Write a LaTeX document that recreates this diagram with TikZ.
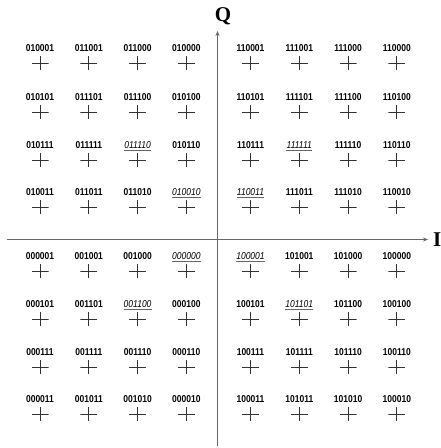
\documentclass[tikz,border=0pt]{standalone}
\usepackage{fontspec}
\setmainfont{Liberation Sans}
\newfontfamily\lblfont[FakeStretch=0.85]{Liberation Sans}
\newfontfamily\serifQ{Liberation Serif}
\usetikzlibrary{arrows.meta}
\begin{document}
\begin{tikzpicture}[x=1pt,y=-1pt,
 lbl/.style={inner sep=0pt, anchor=base, font=\lblfont\fontsize{10}{11}\selectfont\bfseries},
 ulbl/.style={inner sep=0pt, anchor=base, font=\lblfont\fontsize{10}{11}\selectfont\itshape},
 uline/.style={line width=1pt, black!60},
 crs/.style={minimum width=17pt, minimum height=14pt, inner sep=0pt,
   path picture={\draw[line width=1pt, black!80]
     (path picture bounding box.west) -- (path picture bounding box.east)
     (path picture bounding box.north) -- (path picture bounding box.south);}},
 axis/.style={line width=1.3pt, black!60, -{Stealth[length=5pt,width=4pt]}},
 axlbl/.style={inner sep=0pt, font=\fontsize{21}{23}\selectfont\serifQ\bfseries}
]
\useasboundingbox (0,0) rectangle (440,448);
% axes
\coordinate (qtop) at (217.5,31);
\coordinate (qbot) at (217.5,446);
\coordinate (ileft) at (7,239.5);
\coordinate (iright) at (428,239.5);
\draw[axis] (qbot) -- (qtop);
\draw[axis] (ileft) -- (iright);
\node[axlbl] (Q) at (223,16) {Q};
\node[axlbl, anchor=west] (I) at (433,239.5) {I};
% constellation
\foreach \r/\ly/\row in {
 1/51/{010001/0,011001/0,011000/0,010000/0,110001/0,111001/0,111000/0,110000/0},
 2/100/{010101/0,011101/0,011100/0,010100/0,110101/0,111101/0,111100/0,110100/0},
 3/148/{010111/0,011111/0,011110/1,010110/0,110111/0,111111/1,111110/0,110110/0},
 4/195/{010011/0,011011/0,011010/0,010010/1,110011/1,111011/0,111010/0,110010/0},
 5/259/{000001/0,001001/0,001000/0,000000/1,100001/1,101001/0,101000/0,100000/0},
 6/307/{000101/0,001101/0,001100/1,000100/0,100101/0,101101/1,101100/0,100100/0},
 7/355/{000111/0,001111/0,001110/0,000110/0,100111/0,101111/0,101110/0,100110/0},
 8/402/{000011/0,001011/0,001010/0,000010/0,100011/0,101011/0,101010/0,100010/0}}{
  \foreach \lab/\u [count=\c] in \row {
    \pgfmathsetmacro\xx{\c<5 ? 40+48.8*(\c-1) : 250.5+48.8*(\c-5)}
    \ifnum\u=1
      \node[ulbl] (l\r\c) at (\xx,\ly) {\lab};
      \draw[uline] ([yshift=-2pt]l\r\c.base west) -- ([yshift=-2pt]l\r\c.base east);
    \else
      \node[lbl] (l\r\c) at (\xx,\ly) {\lab};
    \fi
    \node[crs] (p\r\c) at (\xx,\ly+12) {};
  }
}
\end{tikzpicture}
\end{document}
